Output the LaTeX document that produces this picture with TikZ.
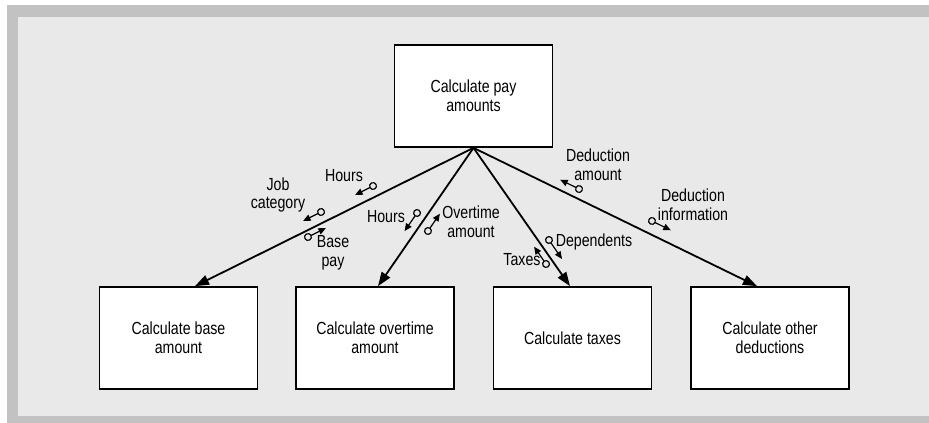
\documentclass[tikz,border=0pt]{standalone}
\usepackage{fontspec}
\setmainfont{Liberation Sans}[FakeStretch=0.81]
\usetikzlibrary{arrows.meta}
\definecolor{framegray}{RGB}{194,194,194}
\definecolor{panelgray}{RGB}{233,233,233}
\begin{document}
\begin{tikzpicture}[x=1pt,y=-1pt,
  every node/.style={font=\fontsize{17.5}{18.6}\selectfont},
  process/.style={draw=black,fill=white,line width=1.7pt,minimum width=158pt,
    minimum height=102pt,align=center,inner sep=0pt},
  flow/.style={line width=1.8pt,-{Triangle[length=14pt,width=10pt]}},
  couple/.style={line width=1.2pt,
    {Circle[open,length=8pt,width=8pt,line width=1.2pt]}-{Triangle[length=7.5pt,width=6.5pt]}},
  lbl/.style={align=center,inner sep=0pt}]

% frame and panel
\useasboundingbox (0,0) rectangle (929,423);
\fill[framegray] (7,5) rectangle (929,423);
\fill[panelgray] (18,17) rectangle (929,416);

% processes
\node[process] (top) at (473.5,96) {Calculate pay\\amounts};
\node[process] (b1) at (178.5,338) {Calculate base\\amount};
\node[process] (b2) at (375,338) {Calculate overtime\\amount};
\node[process] (b3) at (572.5,338) {Calculate taxes};
\node[process] (b4) at (770,338) {Calculate other\\deductions};

% connector end points on the lower boxes
\coordinate (t1) at ([xshift=16.5pt]b1.north);
\coordinate (t2) at ([xshift=3pt]b2.north);
\coordinate (t3) at ([xshift=-2.5pt]b3.north);
\coordinate (t4) at ([xshift=-13pt]b4.north);

\draw[flow] (top.south) -- (t1);
\draw[flow] (top.south) -- (t2);
\draw[flow] (top.south) -- (t3);
\draw[flow] (top.south) -- (t4);

% data couples
\draw[couple] (376.6,184.2) -- (355.1,195);
\draw[couple] (324.6,210.2) -- (303.1,221);
\draw[couple] (304.4,238.8) -- (325.9,228);
\draw[couple] (419.3,209.7) -- (404.6,231.1);
\draw[couple] (425.7,234.3) -- (439.9,213.7);
\draw[couple] (546.7,236.7) -- (562,259);
\draw[couple] (548.3,267.3) -- (534.1,246.7);
\draw[couple] (582.6,190.8) -- (560.2,179.7);
\draw[couple] (648.4,219.2) -- (670.8,230.3);

% couple labels
\node[lbl] (l1) at (344,176) {Hours};
\node[lbl] (l2) at (278,195) {Job\\category};
\node[lbl] (l3) at (333,253) {Base\\pay};
\node[lbl] (l4) at (386,217) {Hours};
\node[lbl] (l5) at (471,222) {Overtime\\amount};
\node[lbl] (l6) at (598,165) {Deduction\\amount};
\node[lbl] (l7) at (693,205) {Deduction\\information};
\node[lbl] (l8) at (594,242) {Dependents};
\node[lbl] (l9) at (522,260) {Taxes};
\end{tikzpicture}
\end{document}
